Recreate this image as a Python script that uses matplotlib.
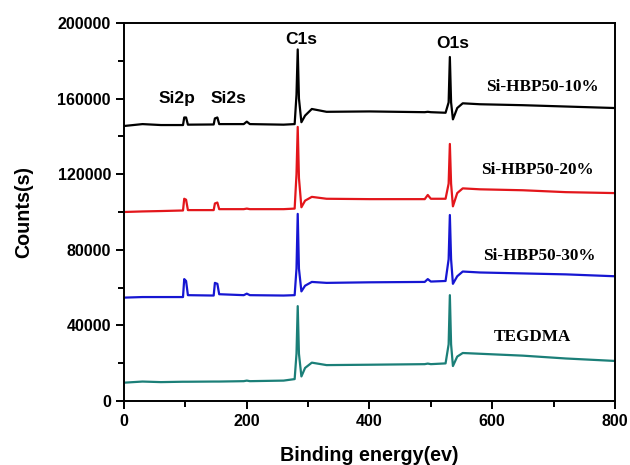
import matplotlib
matplotlib.use("Agg")
import matplotlib.pyplot as plt
from matplotlib.ticker import MultipleLocator

# binding energy grid (eV) shared by all four survey spectra
ev = [0, 30, 60, 96, 98, 101, 104, 146, 148, 152, 155, 195, 200, 205, 260,
      278, 281, 283, 285, 289, 295, 306, 330, 400, 490, 495, 500, 524, 529,
      531, 533, 536, 543, 552, 580, 650, 720, 800]

counts_10 = [145500, 146500, 146000, 146000, 150000, 150000, 146200, 146300,
             149500, 150000, 146500, 146500, 147800, 146500, 146200, 146500,
             162000, 186000, 160000, 147500, 151000, 154500, 153000, 153200,
             152800, 153000, 152800, 152500, 158000, 182000, 158000, 149000,
             155000, 157500, 157000, 156500, 155800, 155000]

counts_20 = [100000, 100300, 100500, 100800, 107000, 106500, 101000, 101000,
             104500, 105000, 101500, 101500, 101800, 101500, 101500, 101800,
             120000, 145000, 118000, 102500, 106000, 108000, 107000, 106800,
             106800, 109000, 107000, 107000, 115000, 136000, 115000, 103000,
             110000, 112500, 112000, 111500, 110500, 110000]

counts_30 = [54700, 55000, 55000, 55000, 64500, 63500, 56000, 55800,
             62500, 62000, 56500, 56000, 56800, 56000, 55800, 56000,
             70000, 99000, 70000, 58000, 61000, 63000, 62500, 62800,
             63000, 64500, 63200, 63500, 75000, 98400, 75000, 62000,
             66000, 68500, 68000, 67500, 67000, 66000]

counts_tegdma = [9700, 10300, 10000, 10200, 10200, 10200, 10200, 10300,
                 10300, 10300, 10300, 10500, 10800, 10500, 10800, 11600,
                 25000, 50200, 25000, 13000, 17500, 20300, 19000, 19200,
                 19500, 19800, 19500, 19900, 30000, 56000, 30000, 18500,
                 23500, 25400, 25000, 24000, 22500, 21200]

series_names = ["Si-HBP50-10%", "Si-HBP50-20%", "Si-HBP50-30%", "TEGDMA"]
series_colors = ["#000000", "#e3161b", "#1616d2", "#1b7f78"]
name_pos = [(681, 166000), (673, 122000), (677, 76700), (666, 33800)]

peak_names = ["Si2p", "Si2s", "C1s", "O1s"]
peak_pos = [(86, 160000), (170, 160000), (288, 191500), (536, 189000)]

fig = plt.figure(figsize=(6.3, 4.65), dpi=100)
ax = fig.add_axes([0.197, 0.1376, 0.779, 0.813])

for ys, c in zip([counts_10, counts_20, counts_30, counts_tegdma], series_colors):
    ax.plot(ev, ys, color=c, lw=1.6)

for name, (x, y) in zip(series_names, name_pos):
    ax.text(x, y, name, ha="center", va="center", fontsize=12.3,
            fontweight="bold", family="Liberation Serif")

for name, (x, y) in zip(peak_names, peak_pos):
    ax.text(x, y, name, ha="center", va="center", fontsize=12.5,
            fontweight="bold", family="Liberation Sans")

ax.set_xlim(0, 800)
ax.set_ylim(0, 200000)
ax.xaxis.set_major_locator(MultipleLocator(200))
ax.xaxis.set_minor_locator(MultipleLocator(100))
ax.yaxis.set_major_locator(MultipleLocator(40000))
ax.yaxis.set_minor_locator(MultipleLocator(20000))
ax.tick_params(which="both", direction="out", width=1.4, top=False, right=False)
ax.tick_params(which="major", length=6, labelsize=11.5)
ax.tick_params(which="minor", length=4)
for lab in ax.get_xticklabels() + ax.get_yticklabels():
    lab.set_fontweight("bold")
    lab.set_family("Liberation Sans")
for sp in ax.spines.values():
    sp.set_linewidth(1.4)

ax.set_xlabel("Binding energy(ev)", fontsize=14.2, fontweight="bold",
              family="Liberation Sans", va="center")
ax.set_ylabel("Counts(s)", fontsize=14.2, fontweight="bold",
              family="Liberation Sans", va="center")
ax.xaxis.set_label_coords(0.5, -0.143)
ax.yaxis.set_label_coords(-0.204, 0.5)

fig.savefig("out.png", dpi=100)
